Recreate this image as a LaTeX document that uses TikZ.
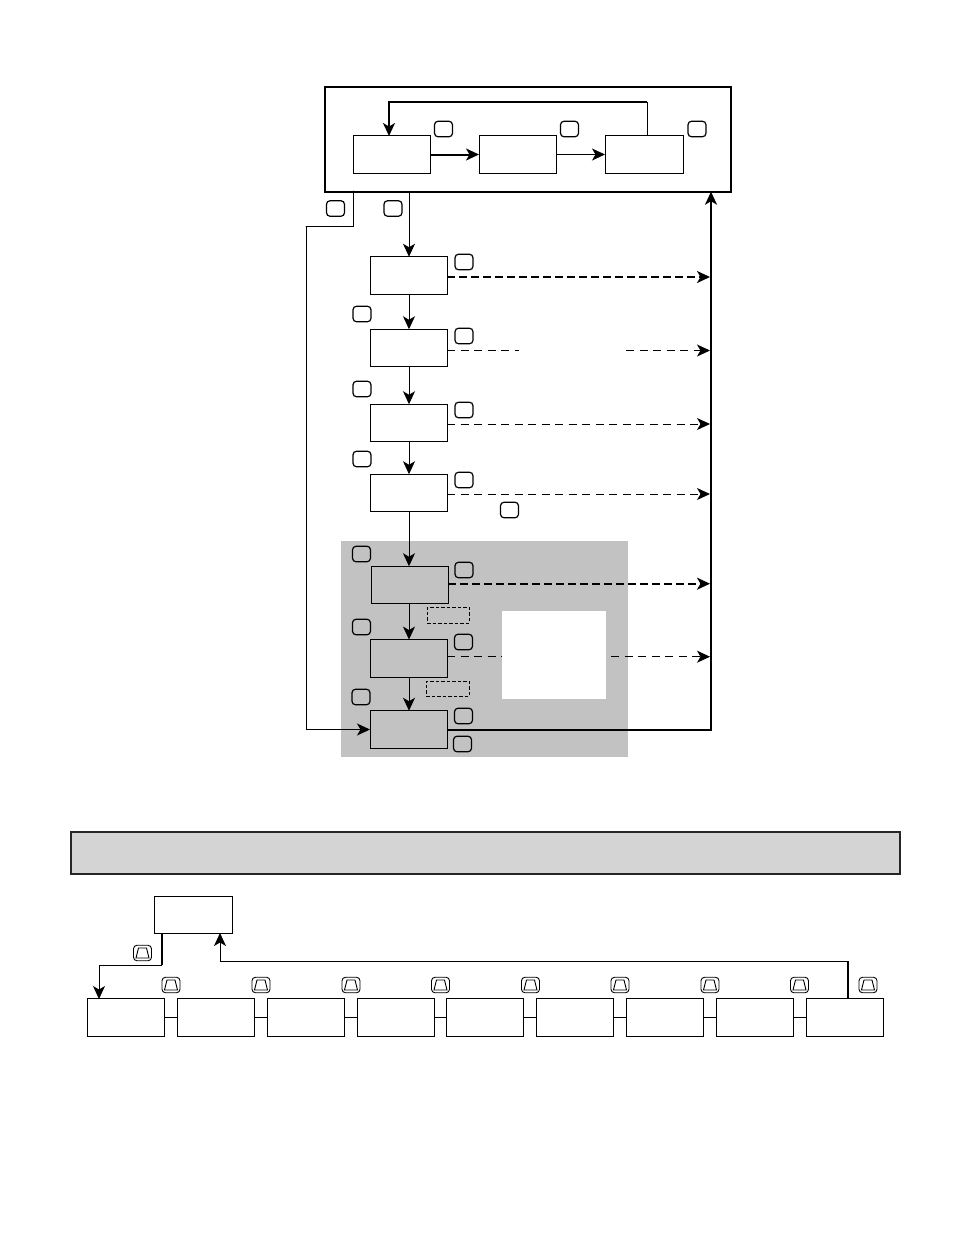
\documentclass[tikz,border=0pt]{standalone}
\usepackage{amsmath}
\usetikzlibrary{positioning, arrows.meta, calc}
\definecolor{shade}{gray}{0.76}
\definecolor{barfill}{gray}{0.83}
\tikzset{
  setbox/.style={
    draw, line width=1pt, outer sep=0pt, inner sep=0pt,
    minimum width=77pt, minimum height=37.5pt
  },
  framebox/.style={
    draw, line width=2pt, outer sep=0pt, inner sep=0pt,
    minimum width=406pt, minimum height=105pt
  },
  presskey/.style={
    draw, line width=1.2pt, rounded corners=3.5pt, outer sep=0pt, inner sep=0pt,
    minimum width=18pt, minimum height=15.5pt
  },
  upkey/.style={
    presskey, line width=0.9pt,
    path picture={
      \draw[line width=0.9pt, sharp corners] ($(path picture bounding box.center)+(-6.5,5)$) -- ++(13,0)
        -- ++(-2.5,-10) -- ++(-8,0) -- cycle;
    }
  },
  flow/.style={-{Stealth[length=13pt,width=12pt,inset=3.5pt]}, line width=1pt},
  heavyflow/.style={flow, line width=2pt},
  dashflow/.style={flow, dash pattern=on 8pt off 5.5pt},
  heavydash/.style={flow, line width=2pt, dash pattern=on 8pt off 4pt},
  plainline/.style={line width=1pt},
  heavyline/.style={line width=2pt},
  hiddenbox/.style={draw, line width=0.7pt, dash pattern=on 3.5pt off 2pt, outer sep=0pt, inner sep=0pt},
}
\begin{document}
\begin{tikzpicture}[x=1pt, y=-1pt]
  \useasboundingbox (0,0) rectangle (954,1235);

  % shaded panel first
  \node[fill=shade, outer sep=0pt, inner sep=0pt, minimum width=287pt, minimum height=216pt] (panel) at (484.5,649) {};
  \node[fill=white, outer sep=0pt, inner sep=0pt, minimum width=104pt, minimum height=88pt] (window) at (554,655) {};

  % top frame
  \node[framebox] (frame) at (528,139.2) {};
  \node[setbox] (sela) at (391.5,154.5) {};
  \node[setbox] (selb) at (517.5,154.5) {};
  \node[setbox, minimum width=78pt] (selc) at (644,154.5) {};
  \node[presskey] (keya) at (443.5,129) {};
  \node[presskey] (keyb) at (569.5,129) {};
  \node[presskey] (keyc) at (697,129) {};
  \node[presskey] (keyexit) at (335.5,208.5) {};
  \node[presskey] (keyenter) at (393,208.5) {};

  % programming column
  \node[setbox] (stepa) at (408.5,275.5) {};
  \node[setbox] (stepb) at (408.5,348) {};
  \node[setbox] (stepc) at (408.5,423) {};
  \node[setbox] (stepd) at (408.5,493) {};
  \node[setbox] (stepe) at (409.5,585) {};
  \node[setbox] (stepf) at (408.5,658.3) {};
  \node[setbox] (stepg) at (408.5,729.5) {};

  \foreach \name/\xx/\yy in {ra/464/262, rb/464/336, rc/464/410, rd/464/480, re/464/570,
      rf/463.5/642, rg/463.5/716, rh/462.5/744, la/362/314, lb/362/389, lc/362/459,
      ld/361.5/554, le/361.5/627, lf/361/697, extra/509.5/510}
    \node[presskey] (key\name) at (\xx,\yy) {};

  \node[hiddenbox, minimum width=42pt, minimum height=16pt] (hida) at (448,615) {};
  \node[hiddenbox, minimum width=43pt, minimum height=15pt] (hidb) at (447.5,688.5) {};

  % anchors on the right hand rail
  \coordinate (rail) at (711,0);
  \coordinate (hita) at (710,277);
  \coordinate (hitb) at (710,350.5);
  \coordinate (hitc) at (710,424);
  \coordinate (hitd) at (710,494);
  \coordinate (hite) at (710,583.7);
  \coordinate (hitf) at (710,656.7);
  \coordinate (gapa) at (519,350.5);
  \coordinate (gapb) at (626,350.5);
  \coordinate (gapc) at (611,656.7);

  % loop inside the frame
  \draw[heavyflow] (sela.east) -- (selb.west);
  \draw[flow] (selb.east) -- (selc.west);
  \coordinate (loopout) at (647,136);
  \coordinate (loopin) at (389,136);
  \coordinate (looptop) at (647,102);
  \draw[plainline] (loopout) -- (looptop);
  \draw[heavyflow] (looptop) -| (loopin);

  % down the column
  \coordinate (frameout) at (409,191);
  \draw[flow] (frameout) -- (stepa.north -| frameout);
  \foreach \a/\b in {stepa/stepb, stepb/stepc, stepc/stepd, stepd/stepe, stepe/stepf, stepf/stepg}
    \draw[flow] (\a.south -| frameout) -- (\b.north -| frameout);

  % skip line on the left
  \coordinate (skipout) at (353,191);
  \coordinate (skipa) at (353,226);
  \coordinate (skipb) at (306,226);
  \draw[plainline, line cap=round] (skipout) -- (skipa) -- (skipb);
  \draw[flow] (skipb) |- (stepg.west);

  % exits to the rail
  \draw[heavydash] (stepa.east |- hita) -- (hita);
  \draw[plainline, dash pattern=on 8pt off 5.5pt] (stepb.east |- hitb) -- (gapa);
  \draw[dashflow] (gapb) -- (hitb);
  \draw[dashflow] (stepc.east |- hitc) -- (hitc);
  \draw[dashflow] (stepd.east |- hitd) -- (hitd);
  \draw[heavydash] (stepe.east |- hite) -- (hite);
  \draw[plainline, dash pattern=on 8pt off 5.5pt] (stepf.east |- hitf) -- (window.west |- hitf);
  \draw[dashflow] (gapc) -- (hitf);
  \draw[heavyflow] (stepg.east) -| (frame.south -| rail);

  % lower strip
  \node[draw=black!85, fill=barfill, line width=1.6pt, outer sep=0pt, inner sep=0pt,
        minimum width=829pt, minimum height=42pt] (bar) at (485.5,853) {};
  \node[setbox, minimum width=78pt] (home) at (193,915) {};

  \foreach \name/\xx in {a/125.5, b/215.5, c/305.5, d/395.5, e/485, f/575, g/664.5, h/754.5, i/844.5}
    \node[setbox] (item\name) at (\xx,1017.5) {};
  \foreach \a/\b in {a/b, b/c, c/d, d/e, e/f, f/g, g/h, h/i}
    \draw[plainline] (item\a.east) -- (item\b.west);

  \node[upkey] (upkeyhome) at (142.5,953) {};
  \foreach \name/\xx in {a/171, b/261, c/351, d/440.5, e/530.5, f/620, g/710, h/799.5, i/868}
    \node[upkey] (upkey\name) at (\xx,985) {};

  \coordinate (homeout) at (162,933);
  \coordinate (homebend) at (162,965);
  \coordinate (entry) at (99,999);
  \draw[heavyline] (homeout) -- (homebend);
  \draw[flow] (homebend) -| (entry);

  \coordinate (backout) at (848,999);
  \coordinate (backbend) at (848,961);
  \coordinate (backin) at (220,933);
  \draw[heavyline] (backout) -- (backbend);
  \draw[flow] (backbend) -| (backin);
\end{tikzpicture}
\end{document}
